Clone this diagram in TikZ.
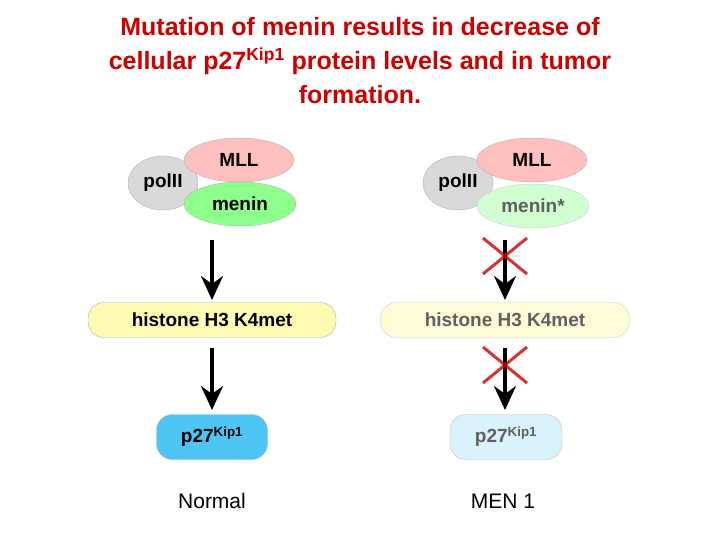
\documentclass[tikz,border=0pt]{standalone}
\usepackage{fontspec}
\setmainfont{Liberation Sans}
\usetikzlibrary{arrows.meta,shapes.geometric}
\begin{document}
\begin{tikzpicture}[x=1pt,y=-1pt,
  lbl/.style={font=\bfseries\fontsize{19}{19}\selectfont},
  ell/.style={ellipse,draw=gray!60,inner sep=0},
  pill/.style={rounded corners=16pt,draw=gray!60},
  arr/.style={line width=3.5pt,-{Stealth[length=24pt,width=22pt,inset=8pt]}},
  xcross/.style={draw=red!80!black,line width=3pt,opacity=0.8}]
\useasboundingbox (0,0) rectangle (720,540);
\fill[white] (0,0) rectangle (720,540);
\node[text=red!80!black,font=\bfseries\fontsize{25}{34}\selectfont,align=center] (title) at (360,61)
 {Mutation of menin results in decrease of\\cellular p27\textsuperscript{Kip1} protein levels and in tumor\\formation.};
% left
\node[ell,fill=gray!30,minimum width=70,minimum height=54,lbl] (pl) at (163,183) {polII};
\node[ell,fill=red!25,minimum width=110,minimum height=44,lbl] (ml) at (239,160) {MLL};
\node[ell,fill=green!45,minimum width=112,minimum height=44,lbl] (mnl) at (240,204) {menin};
\node[pill,fill=yellow!30,minimum width=248,minimum height=35,lbl] (hl) at (212,320) {histone H3 K4met};
\node[pill,fill=cyan!70,minimum width=111,minimum height=45,lbl] (pkl) at (212,437) {p27\textsuperscript{Kip1}};
\coordinate (la1) at (212,240); \coordinate (la2) at (212,300);
\coordinate (lb1) at (212,348); \coordinate (lb2) at (212,410);
\draw[arr] (la1) -- (la2);
\draw[arr] (lb1) -- (lb2);
\node[font=\fontsize{21}{22}\selectfont] (nl) at (212,501) {Normal};
% right
\node[ell,fill=gray!30,minimum width=70,minimum height=54,lbl] (pr) at (458,183) {polII};
\node[ell,fill=red!25,minimum width=110,minimum height=44,lbl] (mr) at (532,160) {MLL};
\node[ell,fill=green!18,draw=gray!40,minimum width=112,minimum height=44,lbl,text=gray!75!black] (mnr) at (533,206) {menin*};
\node[pill,fill=yellow!15,draw=gray!40,minimum width=249,minimum height=35,lbl,text=gray!75!black] (hr) at (505,320) {histone H3 K4met};
\node[pill,fill=cyan!15,draw=gray!50,minimum width=112,minimum height=45,lbl,text=gray!75!black] (pkr) at (506,437) {p27\textsuperscript{Kip1}};
\coordinate (ra1) at (505,240); \coordinate (ra2) at (505,300);
\coordinate (rb1) at (505,348); \coordinate (rb2) at (505,410);
\draw[arr] (ra1) -- (ra2);
\draw[arr] (rb1) -- (rb2);
\draw[xcross] (483,238) -- (527,274) (527,238) -- (483,274);
\draw[xcross] (483,347) -- (527,383) (527,347) -- (483,383);
\node[font=\fontsize{21}{22}\selectfont] (nr) at (503,501) {MEN 1};
\end{tikzpicture}
\end{document}
